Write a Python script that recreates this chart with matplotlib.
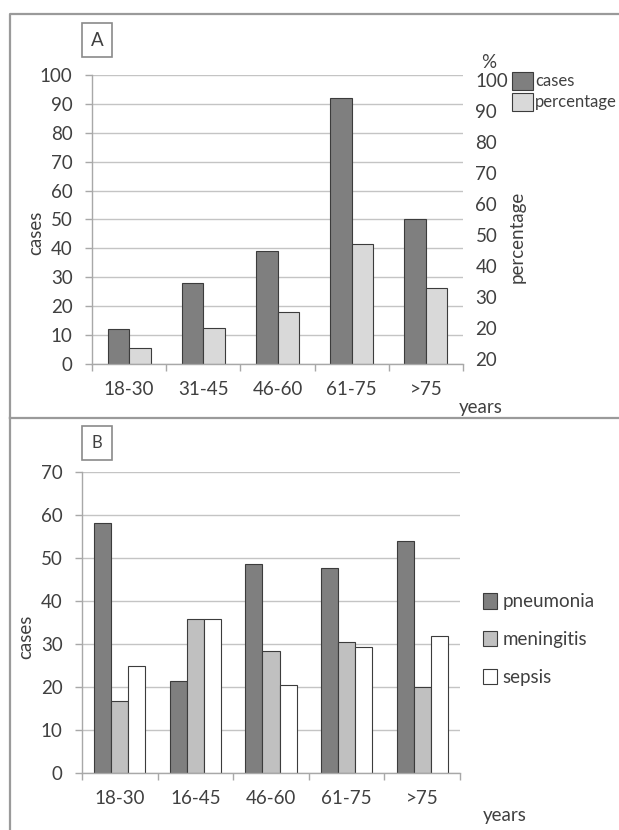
import matplotlib
matplotlib.use("Agg")
import matplotlib.pyplot as plt
from matplotlib.patches import Rectangle, Patch
from matplotlib.lines import Line2D
import numpy as np

plt.rcParams['font.family'] = ['Lato', 'DejaVu Sans']

# panel A data
age_a = ["18-30", "31-45", "46-60", "61-75", ">75"]
cases_a = [12.0, 28.0, 39.1, 92.1, 50.1]
percent_a = [5.4, 12.6, 17.9, 41.6, 26.3]
left_ticks_a = [0, 10, 20, 30, 40, 50, 60, 70, 80, 90, 100]
right_labels_a = ["20", "20", "30", "40", "50", "60", "70", "80", "90", "100"]

# panel B data
age_b = ["18-30", "16-45", "46-60", "61-75", ">75"]
pneumonia = [58.2, 21.5, 48.7, 47.7, 54.0]
meningitis = [16.8, 35.7, 28.3, 30.5, 20.1]
sepsis = [25.0, 35.7, 20.5, 29.3, 31.9]
left_ticks_b = [0, 10, 20, 30, 40, 50, 60, 70]

W, H = 619, 830
FS = 13.5
TXT = "#404040"
GRID = "#c4c4c4"
EDGE = "#3c3c3c"
DARK = "#7f7f7f"
LIGHT = "#d9d9d9"
MID = "#c0c0c0"

fig = plt.figure(figsize=(W / 100, H / 100), dpi=100)


def fx(px):
    return px / W


def fy(py):
    return 1 - py / H


def style_axes(ax, ticks):
    ax.set_xlim(-0.5, 4.5)
    ax.set_yticks(ticks)
    ax.set_ylim(ticks[0], ticks[-1])
    ax.grid(axis="y", color=GRID, lw=1.0)
    ax.set_axisbelow(True)
    for s in ["top", "right"]:
        ax.spines[s].set_visible(False)
    for s in ["left", "bottom"]:
        ax.spines[s].set_color("#a8a8a8")
        ax.spines[s].set_linewidth(1.0)
    ax.set_xticks(np.arange(-0.5, 5.0, 1.0), minor=True)
    ax.tick_params(axis="x", which="minor", length=5, color="#a8a8a8", width=1.0)
    ax.tick_params(axis="x", which="major", length=0, pad=12, labelsize=FS, labelcolor=TXT)
    ax.tick_params(axis="y", length=5, color="#a8a8a8", width=1.0, pad=9,
                   labelsize=FS, labelcolor=TXT)


# outer frames
fig.add_artist(Line2D([fx(10), fx(10), 1.01], [fy(418), fy(14), fy(14)],
                      color="#9a9a9a", lw=1.6, transform=fig.transFigure))
fig.add_artist(Line2D([fx(10), 1.01], [fy(418), fy(418)],
                      color="#9a9a9a", lw=1.6, transform=fig.transFigure))
fig.add_artist(Line2D([fx(10), fx(10)], [fy(418), -0.01],
                      color="#9a9a9a", lw=1.6, transform=fig.transFigure))

# ---------------- panel A ----------------
axA = fig.add_axes([fx(92), fy(364), fx(463) - fx(92), fy(75) - fy(364)])
x = np.arange(len(age_a))
wA = 0.29
axA.bar(x - wA / 2, cases_a, wA, color=DARK, edgecolor=EDGE, lw=0.8, label="cases")
axA.bar(x + wA / 2, percent_a, wA, color=LIGHT, edgecolor=EDGE, lw=0.8, label="percentage")
style_axes(axA, left_ticks_a)
axA.set_xticks(x)
axA.set_xticklabels(age_a)

axA2 = axA.twinx()
axA2.set_ylim(-0.15, 9.15)
axA2.set_yticks(np.arange(len(right_labels_a)))
axA2.set_yticklabels(right_labels_a)
axA2.tick_params(axis="y", length=0, pad=9, labelsize=FS, labelcolor=TXT)
for s in axA2.spines.values():
    s.set_visible(False)

fig.text(fx(36), fy(233), "cases", rotation=90, ha="center", va="center",
         fontsize=FS, color=TXT)
fig.text(fx(517), fy(237), "percentage", rotation=90, ha="center", va="center",
         fontsize=FS, color=TXT)
fig.text(fx(489), fy(62), "%", ha="center", va="center", fontsize=FS, color=TXT)
fig.text(fx(481), fy(407), "years", ha="center", va="center", fontsize=FS, color=TXT)

fig.add_artist(Rectangle((fx(82), fy(57)), fx(112) - fx(82), fy(23) - fy(57),
                         transform=fig.transFigure, fill=False, ec="#8a8a8a", lw=1.2))
fig.text(fx(97), fy(40), "A", ha="center", va="center", fontsize=FS, color=TXT)

legA = [Patch(facecolor=DARK, edgecolor=EDGE, lw=0.8, label="cases"),
        Patch(facecolor=LIGHT, edgecolor=EDGE, lw=0.8, label="percentage")]
fig.legend(handles=legA, loc="upper left", bbox_to_anchor=(fx(512), fy(72)),
           frameon=False, fontsize=12, handlelength=1.25, handleheight=1.25,
           handletextpad=0.15, labelspacing=0.2, borderaxespad=0, borderpad=0,
           labelcolor=TXT)

# ---------------- panel B ----------------
axB = fig.add_axes([fx(82), fy(773), fx(460) - fx(82), fy(472) - fy(773)])
xb = np.arange(len(age_b))
wB = 0.225
axB.bar(xb - wB, pneumonia, wB, color=DARK, edgecolor=EDGE, lw=0.8)
axB.bar(xb, meningitis, wB, color=MID, edgecolor=EDGE, lw=0.8)
axB.bar(xb + wB, sepsis, wB, color="white", edgecolor=EDGE, lw=0.8)
style_axes(axB, left_ticks_b)
axB.set_xticks(xb)
axB.set_xticklabels(age_b)

fig.text(fx(26), fy(637), "cases", rotation=90, ha="center", va="center",
         fontsize=FS, color=TXT)
fig.text(fx(505), fy(815), "years", ha="center", va="center", fontsize=FS, color=TXT)

fig.add_artist(Rectangle((fx(82), fy(460)), fx(112) - fx(82), fy(426) - fy(460),
                         transform=fig.transFigure, fill=False, ec="#8a8a8a", lw=1.2))
fig.text(fx(97), fy(443), "B", ha="center", va="center", fontsize=12, color=TXT)

legB = [Patch(facecolor=DARK, edgecolor=EDGE, lw=0.8, label="pneumonia"),
        Patch(facecolor=MID, edgecolor=EDGE, lw=0.8, label="meningitis"),
        Patch(facecolor="white", edgecolor=EDGE, lw=0.8, label="sepsis")]
fig.legend(handles=legB, loc="upper left", bbox_to_anchor=(fx(483), fy(593)),
           frameon=False, fontsize=FS, handlelength=0.75, handleheight=0.9,
           handletextpad=0.3, labelspacing=1.1, borderaxespad=0, borderpad=0,
           labelcolor=TXT)

plt.savefig("out.png", dpi=100)
